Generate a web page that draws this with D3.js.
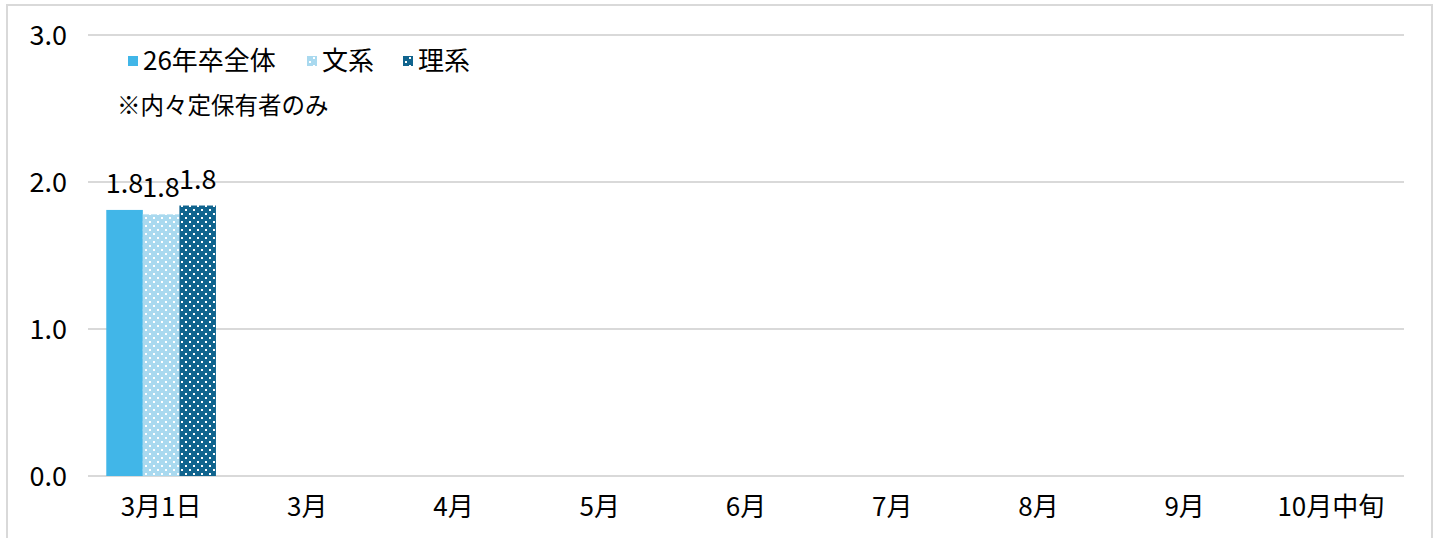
<!DOCTYPE html>
<html><head><meta charset="utf-8">
<script src="https://cdn.jsdelivr.net/npm/d3@7"></script>
<style>
body{margin:0;background:#fff;}
svg{display:block;font-family:"Noto Sans CJK JP","Noto Sans",sans-serif;}
</style></head>
<body><svg id="c" width="1440" height="538"></svg>
<script>
const categories = ["3月1日","3月","4月","5月","6月","7月","8月","9月","10月中旬"];
const seriesNames = ["26年卒全体","文系","理系"];
const totalVals = [1.81];
const bunkeiVals = [1.78];
const rikeiVals = [1.84];
const yTicks = [0,1,2,3];
const note = "※内々定保有者のみ";

const svg = d3.select("#c");
const defs = svg.append("defs");
function dotPattern(id, bg){
  const p = defs.append("pattern").attr("id",id).attr("patternUnits","userSpaceOnUse")
    .attr("width",8).attr("height",8);
  p.append("rect").attr("width",8).attr("height",8).attr("fill",bg);
  p.append("rect").attr("x",1).attr("y",1).attr("width",2).attr("height",2).attr("fill","#fff");
  p.append("rect").attr("x",5).attr("y",5).attr("width",2).attr("height",2).attr("fill","#fff");
}
dotPattern("pL","#a9d9ef");
dotPattern("pD","#10648e");
const fills = ["#41b6e8","url(#pL)","url(#pD)"];

// outer border
svg.append("rect").attr("x",7).attr("y",5).attr("width",1425).attr("height",545)
  .attr("fill","none").attr("stroke","#d9d9d9").attr("stroke-width",2);

const L=88,R=1404,T=35,B=476;
const x = d3.scaleBand().domain(categories).range([L,R]).paddingInner(0.25).paddingOuter(0.125);
const y = d3.scaleLinear().domain([0,3]).range([B,T]);

svg.append("g").selectAll("line").data(yTicks).join("line")
  .attr("x1",L).attr("x2",R).attr("y1",d=>y(d)).attr("y2",d=>y(d))
  .attr("stroke","#d9d9d9").attr("stroke-width",2);

svg.append("g").selectAll("text").data(yTicks).join("text")
  .attr("x",67).attr("y",d=>y(d)).attr("dy","0.36em").attr("text-anchor","end")
  .attr("font-size",27).attr("fill","#000").text(d=>d.toFixed(1));

const xs = d3.scaleBand().domain(seriesNames).range([0,x.bandwidth()]);
const series = [totalVals,bunkeiVals,rikeiVals];
series.forEach((vals,si)=>{
  const g = svg.append("g");
  g.selectAll("rect").data(vals).join("rect")
    .attr("x",(d,i)=>x(categories[i])+xs(seriesNames[si]))
    .attr("width",xs.bandwidth())
    .attr("y",d=>y(d)).attr("height",d=>B-y(d)).attr("fill",fills[si]);
  g.selectAll("text").data(vals).join("text")
    .attr("x",(d,i)=>x(categories[i])+xs(seriesNames[si])+xs.bandwidth()/2)
    .attr("y",d=>y(d)-17).attr("text-anchor","middle")
    .attr("font-size",27).attr("fill","#000").text(d=>d.toFixed(1));
});

svg.append("g").selectAll("text").data(categories).join("text")
  .attr("x",d=>x(d)+x.bandwidth()/2).attr("y",507).attr("dy","0.35em")
  .attr("text-anchor","middle").attr("font-size",26).attr("fill","#000").text(d=>d);

// legend
const legX=[128,307,403];
seriesNames.forEach((n,i)=>{
  svg.append("rect").attr("x",legX[i]).attr("y",56).attr("width",10).attr("height",10).attr("fill",fills[i]);
  svg.append("text").attr("x",legX[i]+15).attr("y",61).attr("dy","0.35em")
    .attr("font-size",26).attr("fill","#000").text(n);
});
svg.append("text").attr("x",117).attr("y",106).attr("dy","0.35em")
  .attr("font-size",23.5).attr("fill","#000").text(note);
</script></body></html>
